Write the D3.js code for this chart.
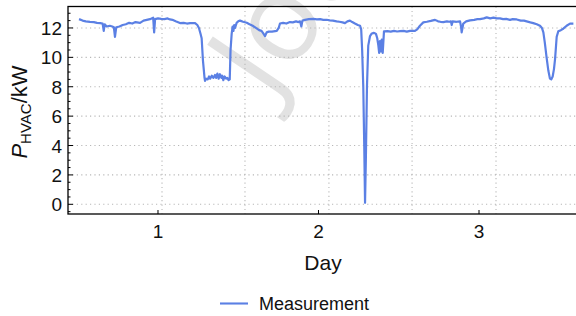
<!DOCTYPE html>
<html>
<head>
<meta charset="utf-8">
<script src="https://cdn.jsdelivr.net/npm/d3@7"></script>
<style>
  body { margin: 0; background: #fff; }
  svg { display: block; font-family: "Liberation Sans", Arial, sans-serif; }
</style>
</head>
<body>
<div id="chart"></div>
<script>
var days = [0.508,0.53,0.55,0.576,0.60,0.62,0.64,0.655,0.662,0.668,0.68,0.70,0.715,0.725,0.732,0.74,0.76,0.78,0.80,0.82,0.84,0.86,0.888,0.91,0.93,0.95,0.97,0.976,0.982,1.0,1.02,1.04,1.06,1.075,1.09,1.11,1.137,1.16,1.18,1.20,1.231,1.245,1.255,1.265,1.272,1.28,1.29,1.293,1.30,1.31,1.318,1.325,1.335,1.345,1.355,1.362,1.37,1.378,1.386,1.395,1.40,1.407,1.415,1.425,1.432,1.44,1.447,1.452,1.459,1.465,1.47,1.475,1.48,1.49,1.50,1.511,1.53,1.553,1.57,1.59,1.61,1.63,1.645,1.655,1.667,1.677,1.69,1.71,1.74,1.752,1.76,1.78,1.80,1.822,1.84,1.86,1.875,1.885,1.893,1.90,1.916,1.94,1.968,1.99,2.01,2.03,2.051,2.07,2.09,2.113,2.13,2.15,2.165,2.18,2.196,2.21,2.227,2.245,2.259,2.266,2.272,2.279,2.285,2.290,2.295,2.302,2.31,2.321,2.33,2.341,2.35,2.358,2.366,2.373,2.378,2.383,2.388,2.394,2.400,2.408,2.43,2.45,2.47,2.49,2.508,2.53,2.55,2.57,2.601,2.615,2.632,2.653,2.675,2.70,2.726,2.745,2.76,2.778,2.80,2.815,2.825,2.830,2.836,2.86,2.882,2.888,2.892,2.897,2.902,2.92,2.944,2.97,2.99,3.006,3.03,3.048,3.07,3.09,3.11,3.131,3.15,3.17,3.193,3.21,3.235,3.26,3.28,3.297,3.32,3.338,3.36,3.38,3.392,3.401,3.41,3.421,3.432,3.442,3.45,3.459,3.467,3.474,3.48,3.484,3.494,3.51,3.525,3.546,3.567,3.588];
var power = [12.6,12.5,12.45,12.42,12.4,12.35,12.33,12.3,11.8,12.25,12.1,12.15,12.1,12.05,11.4,12.05,12.1,12.2,12.25,12.35,12.3,12.4,12.35,12.5,12.55,12.6,12.7,11.7,12.6,12.65,12.62,12.6,12.65,12.58,12.55,12.45,12.33,12.35,12.3,12.33,12.33,12.2,12.0,11.6,11.3,9.8,8.6,8.4,8.55,8.5,8.7,8.55,8.75,8.6,8.8,8.6,8.9,8.55,8.85,8.6,8.75,8.45,8.7,8.55,8.6,8.45,8.5,10.5,11.6,12.1,11.8,12.2,12.0,12.35,12.45,12.5,12.42,12.35,12.25,12.15,12.0,11.85,11.8,11.65,11.45,11.7,11.75,11.75,11.8,12.0,12.3,12.35,12.3,12.4,12.38,12.45,12.4,12.45,12.1,12.5,12.55,12.6,12.62,12.58,12.6,12.55,12.56,12.52,12.5,12.45,12.42,12.38,12.33,12.45,12.5,12.4,12.3,12.2,12.15,11.9,10.5,8,4,0.1,3,8,10.8,11.45,11.6,11.66,11.65,11.6,11.3,10.8,10.3,11.1,10.4,11.2,10.3,11.77,11.78,11.75,11.8,11.76,11.78,11.8,11.75,11.8,11.8,11.9,12.15,12.38,12.42,12.48,12.55,12.45,12.42,12.4,12.45,12.42,12.45,12.2,12.45,12.42,12.45,12.1,11.7,12.0,12.3,12.45,12.52,12.55,12.6,12.6,12.65,12.72,12.65,12.7,12.65,12.65,12.6,12.62,12.55,12.6,12.58,12.5,12.5,12.45,12.38,12.33,12.25,12.15,12.0,11.7,11.0,10.0,9.1,8.55,8.5,8.7,9.2,9.9,10.8,11.4,11.77,11.85,11.95,12.15,12.3,12.3];

var xTicks = [1, 2, 3];
var yTicks = [0, 2, 4, 6, 8, 10, 12];
var yMinor = d3.range(-0.5, 13.5, 0.5).filter(function(v) { return v % 2 !== 0; });
var xGrid = [1.025, 1.542, 2.065, 2.583, 3.106];
var seriesName = 'Measurement';

var width = 576, height = 316;
var pLeft = 68, pRight = 578, pTop = 6.5, pBottom = 214;
var blue = '#5b80e4';

var x = d3.scaleLinear().domain([0.4393, 3.6168]).range([pLeft, pRight]);
var y = d3.scaleLinear().domain([-0.66, 13.46]).range([pBottom, pTop]);

var svg = d3.select('#chart').append('svg').attr('width', width).attr('height', height);

svg.append('defs').append('clipPath').attr('id', 'clip')
  .append('rect').attr('x', pLeft).attr('y', pTop).attr('width', pRight - pLeft).attr('height', pBottom - pTop);

// watermark
svg.append('text')
  .attr('transform', 'translate(272,102) rotate(-56)')
  .attr('font-size', 120)
  .attr('fill', '#e2e2e2')
  .style('font-family', '"Open Sans", sans-serif')
  .text('Joule');

// grid
var grid = svg.append('g').attr('stroke', '#b8b8b8').attr('stroke-width', 1.1).attr('stroke-dasharray', '1.2,3.2');
grid.selectAll('.gy').data(yTicks).enter().append('line')
  .attr('x1', pLeft).attr('x2', pRight).attr('y1', function(d) { return y(d); }).attr('y2', function(d) { return y(d); });
grid.selectAll('.gx').data(xGrid).enter().append('line')
  .attr('y1', pTop).attr('y2', pBottom).attr('x1', function(d) { return x(d); }).attr('x2', function(d) { return x(d); });

// series
var line = d3.line().x(function(d) { return x(d[0]); }).y(function(d) { return y(d[1]); });
svg.append('path')
  .datum(d3.zip(days, power))
  .attr('clip-path', 'url(#clip)')
  .attr('fill', 'none').attr('stroke', blue).attr('stroke-width', 2.2)
  .attr('stroke-linejoin', 'round')
  .attr('d', line);

// frame
svg.append('rect').attr('x', pLeft).attr('y', pTop).attr('width', pRight - pLeft).attr('height', pBottom - pTop)
  .attr('fill', 'none').attr('stroke', '#000').attr('stroke-width', 1.3);

// ticks
var ticks = svg.append('g').attr('stroke', '#000').attr('stroke-width', 1);
ticks.selectAll('.ty').data(yTicks).enter().append('line')
  .attr('x1', pLeft).attr('x2', pLeft + 5).attr('y1', function(d) { return y(d); }).attr('y2', function(d) { return y(d); });
ticks.selectAll('.tym').data(yMinor).enter().append('line')
  .attr('x1', pLeft).attr('x2', pLeft + 2.5).attr('y1', function(d) { return y(d); }).attr('y2', function(d) { return y(d); });
ticks.selectAll('.tx').data(xTicks).enter().append('line')
  .attr('y1', pBottom).attr('y2', pBottom - 4).attr('x1', function(d) { return x(d); }).attr('x2', function(d) { return x(d); });

// tick labels
svg.selectAll('.ly').data(yTicks).enter().append('text')
  .attr('x', 62).attr('y', function(d) { return y(d) + 7; })
  .attr('text-anchor', 'end').attr('font-size', 19).attr('fill', '#111')
  .text(function(d) { return d; });
svg.selectAll('.lx').data(xTicks).enter().append('text')
  .attr('x', function(d) { return x(d); }).attr('y', 238)
  .attr('text-anchor', 'middle').attr('font-size', 19).attr('fill', '#111')
  .text(function(d) { return d; });

// axis titles
svg.append('text').attr('x', 323).attr('y', 270).attr('text-anchor', 'middle')
  .attr('font-size', 21).attr('fill', '#111').text('Day');

var yl = svg.append('text').attr('transform', 'translate(27,112) rotate(-90)')
  .attr('text-anchor', 'middle').attr('font-size', 22).attr('fill', '#111');
yl.append('tspan').style('font-style', 'italic').text('P');
yl.append('tspan').attr('font-size', 15).attr('dy', 4).text('HVAC');
yl.append('tspan').attr('dy', -4).text('/kW');

// legend
svg.append('line').attr('x1', 220).attr('x2', 248).attr('y1', 303.5).attr('y2', 303.5)
  .attr('stroke', blue).attr('stroke-width', 2.1);
svg.append('text').attr('x', 259).attr('y', 309.5).attr('font-size', 18).attr('fill', '#111').text(seriesName);
</script>
</body>
</html>
